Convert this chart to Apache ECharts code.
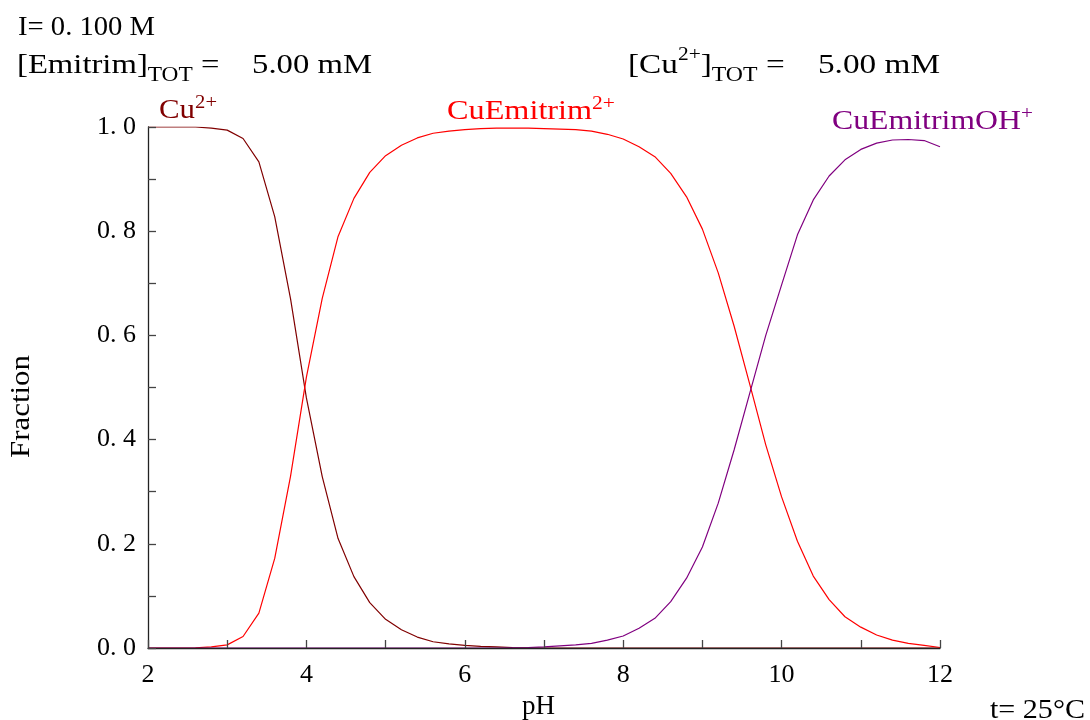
<!DOCTYPE html>
<html>
<head>
<meta charset="utf-8">
<script src="https://cdn.jsdelivr.net/npm/echarts@6/dist/echarts.min.js"></script>
<style>
html,body{margin:0;padding:0;background:#fff;}
#chart{width:1090px;height:720px;}
</style>
</head>
<body>
<div id="chart"></div>
<script>
// pH values (x)
const pH = [2.0,2.2,2.4,2.6,2.8,3.0,3.2,3.4,3.6,3.8,4.0,4.2,4.4,4.6,4.8,5.0,5.2,5.4,5.6,5.8,
  6.0,6.2,6.4,6.6,6.8,7.0,7.2,7.4,7.6,7.8,8.0,8.2,8.4,8.6,8.8,9.0,9.2,9.4,9.6,9.8,
  10.0,10.2,10.4,10.6,10.8,11.0,11.2,11.4,11.6,11.8,12.0];
// Fraction of Cu2+
const cuFree = [1.000,1.000,1.000,1.000,0.998,0.994,0.978,0.933,0.828,0.670,0.480,0.329,0.210,0.137,0.087,0.055,0.035,0.021,0.012,0.008,
  0.005,0.003,0.002,0.001,0.0005,0,0,0,0,0,0,0,0,0,0,0,0,0,0,0,
  0,0,0,0,0,0,0,0,0,0,0];
// Fraction of CuEmitrim2+
const cuL = [0,0,0,0.0005,0.002,0.006,0.022,0.067,0.172,0.330,0.520,0.671,0.790,0.863,0.913,0.945,0.965,0.979,0.988,0.992,
  0.995,0.997,0.998,0.998,0.998,0.997,0.996,0.995,0.992,0.986,0.977,0.962,0.943,0.911,0.866,0.804,0.720,0.618,0.505,0.390,
  0.290,0.205,0.138,0.093,0.060,0.040,0.025,0.015,0.009,0.005,0.001];
// Fraction of CuEmitrimOH+
const cuLOH = [0,0,0,0,0,0,0,0,0,0,0,0,0,0,0,0,0,0,0,0,
  0,0,0,0.0005,0.001,0.002,0.004,0.006,0.009,0.015,0.023,0.038,0.057,0.089,0.134,0.194,0.278,0.380,0.490,0.600,
  0.697,0.793,0.860,0.906,0.937,0.957,0.969,0.975,0.976,0.974,0.962];
const xTickLabels = ['2','4','6','8','10','12'];
const yTickLabels = ['0. 0','0. 2','0. 4','0. 6','0. 8','1. 0'];

const FONT = '"Liberation Serif","Times New Roman",serif';
const pairs = arr => pH.map((x, i) => [x, arr[i]]);

const chart = echarts.init(document.getElementById('chart'), null, {renderer: 'canvas'});

// measuring helper for stretched text
const mctx = document.createElement('canvas').getContext('2d');
function measure(str, size) { mctx.font = size + 'px ' + FONT; return mctx.measureText(str).width; }

// styles: b = base, sup = superscript, sub = subscript
function makeRich(color, base, lh, supSize, supLH, subSize, subLH) {
  return {
    b: { fontSize: base, fontFamily: FONT, lineHeight: lh, verticalAlign: 'middle', fill: color },
    sup: { fontSize: supSize, fontFamily: FONT, lineHeight: supLH, verticalAlign: 'top', fill: color },
    sub: { fontSize: subSize, fontFamily: FONT, lineHeight: subLH, verticalAlign: 'bottom', fill: color }
  };
}
function label(x, y, tokens, target, rich, color, extra) {
  const text = tokens.map(t => '{' + t[0] + '|' + t[1] + '}').join('');
  let nat = 0;
  tokens.forEach(t => { nat += measure(t[1], rich[t[0]].fontSize); });
  const sx = target / nat;
  return Object.assign({
    type: 'text', x: x, y: y, scaleX: sx, originX: 0, originY: 0, silent: true,
    style: { text: text, rich: rich, fill: color, font: rich.b.fontSize + 'px ' + FONT,
             align: 'left', verticalAlign: 'middle' }
  }, extra || {});
}
const headRich = makeRich('#000', 28, 40, 18, 26, 20, 21);
const cuRich = makeRich('#800000', 27, 34, 18, 18, 18, 18);
const lRich = makeRich('#ff0000', 27, 34, 18, 18, 18, 18);
const lohRich = makeRich('#800080', 27, 34, 18, 18, 18, 18);

const option = {
  animation: false,
  backgroundColor: '#fff',
  grid: { left: 148, right: 150, top: 127, bottom: 72, containLabel: false, outerBoundsMode: 'none' },
  xAxis: {
    type: 'value', min: 2, max: 12, interval: 1, z: 5,
    axisLine: { show: true, onZero: false, lineStyle: { color: '#222', width: 1.3 } },
    axisTick: { show: true, inside: true, length: 8, lineStyle: { color: '#444', width: 1.3 } },
    axisLabel: {
      margin: 14, color: '#000', fontFamily: FONT, fontSize: 26,
      formatter: v => { const k = Math.round(v); return k % 2 === 0 ? xTickLabels[(k - 2) / 2] : ''; }
    },
    splitLine: { show: false }
  },
  yAxis: {
    type: 'value', min: 0, max: 1, interval: 0.1, z: 5,
    axisLine: { show: true, lineStyle: { color: '#222', width: 1.3 } },
    axisTick: { show: true, inside: true, length: 8, lineStyle: { color: '#444', width: 1.3 } },
    axisLabel: {
      margin: 12, color: '#000', fontFamily: FONT, fontSize: 26,
      formatter: v => { const k = Math.round(v * 10); return k % 2 === 0 ? yTickLabels[k / 2] : ''; }
    },
    splitLine: { show: false }
  },
  series: [
    { name: 'Cu2+', type: 'line', data: pairs(cuFree), showSymbol: false, z: 2,
      lineStyle: { color: '#800000', width: 1.2 } },
    { name: 'CuEmitrim2+', type: 'line', data: pairs(cuL), showSymbol: false, z: 2,
      lineStyle: { color: '#ff0000', width: 1.2 } },
    { name: 'CuEmitrimOH+', type: 'line', data: pairs(cuLOH), showSymbol: false, z: 2,
      lineStyle: { color: '#800080', width: 1.2 } }
  ],
  graphic: [
    label(18, 28, [['b', 'I= 0. 100 M']], 137, headRich, '#000'),
    label(17, 66, [['b', '[Emitrim]'], ['sub', 'TOT'], ['b', ' =    5.00 mM']], 355, headRich, '#000'),
    label(628, 66, [['b', '[Cu'], ['sup', '2+'], ['b', ']'], ['sub', 'TOT'], ['b', ' =    5.00 mM']], 312, headRich, '#000'),
    label(159, 111, [['b', 'Cu'], ['sup', '2+']], 58, cuRich, '#800000'),
    label(447, 112, [['b', 'CuEmitrim'], ['sup', '2+']], 168, lRich, '#ff0000'),
    label(832, 122, [['b', 'CuEmitrimOH'], ['sup', '+']], 201, lohRich, '#800080'),
    label(522, 707, [['b', 'pH']], 33, headRich, '#000'),
    label(990, 711, [['b', 't= 25°C']], 95, headRich, '#000'),
    label(22, 458, [['b', 'Fraction']], 103, headRich, '#000', { rotation: Math.PI / 2 })
  ]
};
chart.setOption(option);
</script>
</body>
</html>
